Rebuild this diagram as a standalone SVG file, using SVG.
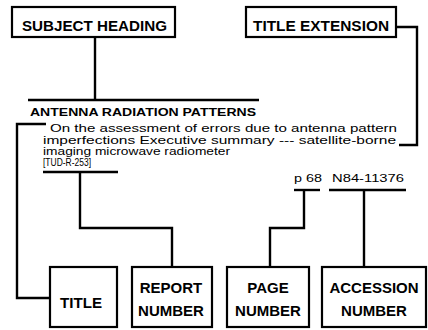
<svg xmlns="http://www.w3.org/2000/svg" width="428" height="330" viewBox="0 0 428 330">
<style>
.box{fill:#fff;stroke:#000;stroke-width:2.2}
.lbl{font-family:"Liberation Sans",Arial,sans-serif;font-weight:bold;font-size:15px;fill:#000;text-anchor:middle}
.body{font-family:"Liberation Sans",Arial,sans-serif;font-size:11.5px;fill:#000}
.conn{fill:none;stroke:#000;stroke-width:2.4;stroke-linejoin:miter}
</style>
<rect width="428" height="330" fill="#fff"/>
<g id="connectors">
<path class="conn" d="M95,37 V100"/>
<path class="conn" d="M28,100 H259"/>
<path class="conn" d="M396,27 H417 V145 H399"/>
<path class="conn" d="M46,124 H17 V298 H50"/>
<path class="conn" d="M43,172 H118"/>
<path class="conn" d="M80,172 V228 H172 V267"/>
<path class="conn" d="M294,190 H320"/>
<path class="conn" d="M304,190 V228 H270 V267"/>
<path class="conn" d="M329,190 H406"/>
<path class="conn" d="M364,190 V267"/>
</g>
<g id="subject-heading">
<rect class="box" x="12" y="7" width="163" height="30"/>
<text class="lbl" x="94.5" y="31" textLength="145" lengthAdjust="spacingAndGlyphs">SUBJECT HEADING</text>
</g>
<g id="title-extension">
<rect class="box" x="246" y="7" width="150" height="30"/>
<text class="lbl" x="321" y="31" textLength="136" lengthAdjust="spacingAndGlyphs">TITLE EXTENSION</text>
</g>
<g id="citation">
<text class="body" x="30" y="116" font-weight="bold" textLength="226" lengthAdjust="spacingAndGlyphs">ANTENNA RADIATION PATTERNS</text>
<text class="body" x="50" y="132" textLength="347" lengthAdjust="spacingAndGlyphs">On the assessment of errors due to antenna pattern</text>
<text class="body" x="43" y="144" textLength="353" lengthAdjust="spacingAndGlyphs">imperfections   Executive summary --- satellite-borne</text>
<text class="body" x="43" y="155" textLength="187" lengthAdjust="spacingAndGlyphs">imaging microwave radiometer</text>
<text class="body" x="43" y="166" textLength="48" lengthAdjust="spacingAndGlyphs">[TUD-R-253]</text>
<text class="body" x="294" y="182" textLength="28" lengthAdjust="spacingAndGlyphs">p 68</text>
<text class="body" x="332" y="182" textLength="72" lengthAdjust="spacingAndGlyphs">N84-11376</text>
</g>
<g id="title">
<rect class="box" x="50" y="267" width="67" height="60"/>
<text class="lbl" x="81" y="308" textLength="42" lengthAdjust="spacingAndGlyphs">TITLE</text>
</g>
<g id="report-number">
<rect class="box" x="132" y="267" width="80" height="60"/>
<text class="lbl" x="171" y="293">REPORT</text>
<text class="lbl" x="171" y="316">NUMBER</text>
</g>
<g id="page-number">
<rect class="box" x="227" y="267" width="82" height="60"/>
<text class="lbl" x="268" y="293">PAGE</text>
<text class="lbl" x="268" y="316">NUMBER</text>
</g>
<g id="accession-number">
<rect class="box" x="322" y="267" width="104" height="60"/>
<text class="lbl" x="374" y="293">ACCESSION</text>
<text class="lbl" x="374" y="316">NUMBER</text>
</g>
</svg>
